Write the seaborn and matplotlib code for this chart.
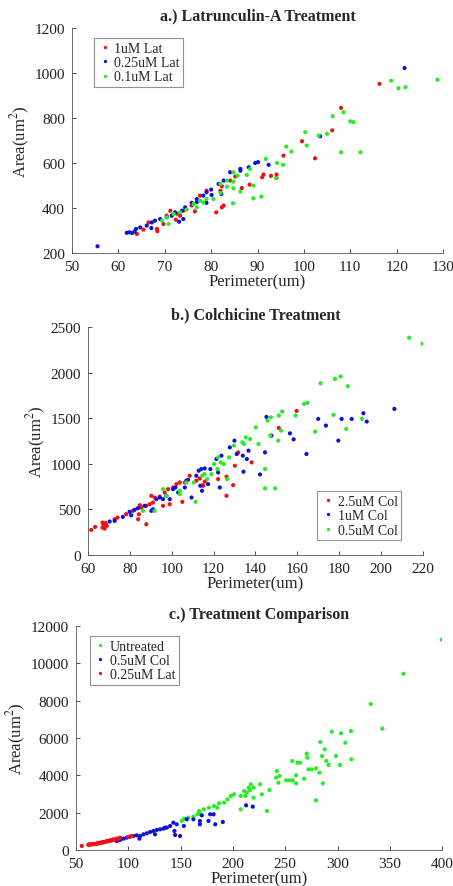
import pandas as pd
import numpy as np
import seaborn as sns
import matplotlib.pyplot as plt

sns.set_theme(style="ticks")
plt.rcParams['font.family'] = ['Liberation Serif', 'DejaVu Serif']
plt.rcParams['mathtext.fontset'] = 'stix'
plt.rcParams['xtick.direction'] = 'in'
plt.rcParams['ytick.direction'] = 'in'

# ---------------- a.) Latrunculin-A ----------------
lat1_x = [116.3, 108.0, 106.1, 99.6, 102.4, 95.6, 94.1, 94.1, 92.9, 91.3, 91.0, 88.3, 86.6, 85.2,
          82.3, 82.7, 82.3, 81.1, 82.0, 76.5, 73.3, 74.0, 72.4, 71.2, 69.7, 68.3, 68.4, 65.4, 64.0,
          66.5, 77.6, 79.0, 84.1, 72.6, 75.8, 70.4]
lat1_y = [952, 845, 745, 697, 621, 633, 549, 534, 543, 549, 537, 504, 489, 540,
          497, 411, 403, 381, 477, 385, 366, 388, 348, 388, 329, 307, 297, 304, 285,
          336, 455, 477, 522, 375, 411, 366]
lat025_x = [55.5, 61.8, 62.4, 63.0, 63.5, 63.8, 64.7, 66.1, 67.2, 67.9, 69.0, 70.4, 71.5, 72.2,
            73.7, 74.4, 75.8, 76.9, 78.3, 79.0, 80.0, 81.6, 82.7, 84.1, 86.3, 88.1, 89.5, 90.1,
            92.4, 103.5, 121.7, 74.0, 79.0, 80.1, 82.2, 67.1, 76.9, 73.1, 86.3]
lat025_y = [230, 290, 292, 289, 296, 307, 314, 322, 336, 344, 351, 359, 366, 381,
            388, 403, 423, 440, 455, 470, 482, 507, 522, 559, 574, 581, 600, 604,
            592, 719, 1022, 351, 423, 458, 462, 311, 426, 339, 566]
lat01_x = [128.8, 118.8, 120.4, 121.9, 108.5, 106.2, 110.0, 110.7, 100.3, 100.6, 103.2, 105.0,
           96.2, 97.3, 108.0, 112.2, 91.8, 94.2, 95.5, 94.0, 88.4, 87.7, 85.7, 84.8, 83.4, 89.1,
           89.1, 90.8, 84.7, 84.8, 86.3, 82.0, 80.5, 78.3, 76.9, 74.7, 73.3, 71.9, 70.4, 69.4,
           70.8, 76.2, 79.0, 84.8, 82.0, 77.6, 83.4]
lat01_y = [970, 966, 933, 937, 826, 808, 785, 782, 737, 678, 722, 730,
           673, 651, 648, 648, 618, 600, 592, 534, 574, 547, 544, 517, 522, 500,
           443, 451, 421, 488, 473, 466, 440, 425, 403, 393, 381, 374, 359, 344,
           329, 418, 440, 559, 507, 433, 495]

# ---------------- b.) Colchicine ----------------
col25_x = [61.6, 63.5, 67.0, 67.5, 68.0, 68.5, 69.0, 68.0, 67.0, 72.8, 74.2, 78.3, 81.5, 84.0,
           84.4, 85.5, 87.9, 87.9, 89.5, 91.1, 91.9, 94.3, 95.9, 96.7, 98.3, 99.1, 100.7, 102.3,
           103.9, 105.1, 106.3, 108.6, 111.8, 113.4, 115.0, 115.9, 122.2, 126.2, 126.2, 129.4,
           130.2, 131.8, 138.2, 151.2, 159.7, 115.0, 90.3, 84.8]
col25_y = [275, 308, 300, 330, 290, 350, 320, 340, 355, 392, 410, 447, 484, 392,
           447, 520, 539, 337, 557, 575, 630, 641, 539, 685, 722, 557, 740, 777,
           795, 583, 795, 869, 814, 839, 759, 806, 832, 858, 649, 766,
           979, 1125, 1015, 1393, 1580, 766, 649, 546]
col1_x = [70.4, 72.8, 76.7, 79.9, 80.7, 82.3, 83.9, 87.1, 90.3, 91.1, 92.7, 94.3, 95.9, 97.5,
          99.1, 100.7, 101.8, 103.1, 106.3, 107.8, 109.5, 111.8, 112.9, 114.2, 115.8, 113.7,
          114.5, 117.4, 121.4, 122.2, 123.0, 123.8, 127.8, 130.0, 131.1, 134.0, 134.3, 135.9,
          136.7, 142.2, 144.6, 145.3, 147.7, 156.5, 158.3, 164.4, 170.0, 173.7, 179.6, 181.2,
          186.0, 191.6, 193.2, 206.4, 118.5, 107.0]
col1_y = [367, 374, 418, 473, 436, 495, 513, 539, 484, 502, 612, 630, 612, 649,
          612, 722, 740, 685, 740, 825, 630, 869, 924, 942, 949, 759,
          704, 777, 1052, 905, 740, 1089, 1180, 1254, 1107, 1089, 913, 1052,
          1144, 883, 1125, 1514, 1309, 1334, 1268, 1107, 1492, 1419, 1254, 1492,
          1492, 1554, 1463, 1602, 942, 814]
col05_x = [213.4, 219.8, 171.1, 178.0, 180.7, 184.1, 163.3, 164.9, 159.2, 152.8, 151.2, 140.2,
           141.5, 145.8, 147.4, 152.2, 150.9, 147.1, 144.6, 144.6, 149.4, 168.5, 177.3, 183.4,
           190.9, 137.5, 135.4, 134.6, 129.8, 127.4, 125.0, 123.4, 121.9, 120.3, 119.0, 117.0,
           114.6, 110.6, 111.4, 115.7, 126.5, 103.9, 103.9, 97.5, 95.9, 91.9, 86.3, 107.0,
           122.2, 133.8]
col05_y = [2383, 2317, 1884, 1932, 1957, 1851, 1657, 1668, 1529, 1573, 1529, 1400,
           1217, 1474, 1510, 1364, 1254, 1309, 942, 730, 730, 1353, 1536, 1382,
           1492, 1272, 1290, 1217, 1199, 1070, 997, 1015, 942, 997, 887, 832,
           869, 795, 583, 887, 832, 704, 667, 649, 722, 484, 484, 795,
           1070, 1235]

# ---------------- c.) Treatment Comparison ----------------
untr_x = [399.7, 363.0, 331.7, 342.9, 294.5, 303.2, 312.8, 307.4, 283.5, 287.7, 298.5, 313.2,
          302.3, 270.5, 271.1, 256.8, 261.6, 264.2, 285.2, 289.3, 291.5, 272.2, 275.4, 279.5,
          282.6, 285.9, 279.5, 268.0, 260.4, 257.2, 260.4, 254.0, 250.8, 241.9, 241.3, 244.5,
          243.5, 234.9, 232.4, 226.0, 227.6, 217.0, 219.6, 216.1, 213.2, 210.7, 207.4, 207.4,
          201.0, 197.9, 194.7, 191.5, 186.6, 181.8, 177.0, 172.2, 167.5, 169.0, 162.2, 157.4,
          153.3, 151.0, 219.6, 211.8, 185.0, 215.0, 166.0]
untr_y = [11268, 9446, 7821, 6500, 6339, 6250, 6375, 5750, 5786, 5393, 5036, 4857,
          4554, 5161, 4946, 4768, 4679, 4679, 5036, 4768, 4554, 4321, 4321, 4375,
          4143, 3571, 2661, 3821, 4000, 3732, 3571, 3732, 3732, 4232, 3875, 3964,
          3607, 3214, 2089, 3518, 2982, 3518, 3339, 3214, 3071, 3161, 2893, 2179,
          2982, 2893, 2714, 2536, 2500, 2357, 2268, 2179, 2089, 1911, 1786, 1732,
          1679, 1554, 2804, 2893, 2268, 3339, 1911]
c05_x = [190.3, 183.0, 176.6, 181.5, 178.2, 170.2, 162.2, 155.8, 168.4, 212.6, 218.9, 149.4,
         144.7, 144.0, 146.2, 143.0, 139.9, 136.7, 133.5, 130.3, 127.1, 123.9, 120.8, 117.6,
         114.4, 111.2, 110.5, 107.9, 104.8, 101.6, 98.5, 95.3, 92.1, 88.9, 125.5, 135.0,
         153.0, 168.4]
c05_y = [1500, 1375, 1554, 1911, 1911, 1857, 1643, 1643, 1375, 2393, 2321, 750,
         804, 1018, 1375, 1464, 1286, 1196, 1143, 1107, 1071, 1018, 964, 893,
         839, 750, 607, 786, 750, 714, 661, 607, 536, 482, 839, 1196,
         1286, 1554]
l025_x = [55.4, 61.8, 65.0, 69.8, 73.0, 76.1, 79.3, 82.5, 85.7, 88.9, 92.1, 103.3,
          63.0, 67.0, 71.0, 75.0, 78.0, 81.0, 84.0, 87.0, 90.0, 64.0, 68.0, 72.0,
          62.0, 66.0, 70.0, 74.0, 76.0, 80.0, 83.0, 86.0, 100.0]
l025_y = [214, 286, 304, 339, 393, 429, 482, 518, 571, 607, 661, 750,
          290, 320, 360, 400, 440, 480, 520, 560, 600, 300, 330, 370,
          280, 310, 350, 390, 410, 460, 500, 540, 700]


def make_df(groups):
    frames = []
    for name, xs, ys in groups:
        frames.append(pd.DataFrame({'Perimeter': xs, 'Area': ys, 'Group': name}))
    return pd.concat(frames, ignore_index=True)


df_a = make_df([('1uM Lat', lat1_x, lat1_y), ('0.25uM Lat', lat025_x, lat025_y),
                ('0.1uM Lat', lat01_x, lat01_y)])
df_b = make_df([('2.5uM Col', col25_x, col25_y), ('1uM Col', col1_x, col1_y),
                ('0.5uM Col', col05_x, col05_y)])
df_c = make_df([('Untreated', untr_x, untr_y), ('0.5uM Col', c05_x, c05_y),
                ('0.25uM Lat', l025_x, l025_y)])

RED, BLUE, GREEN = '#ee1111', '#1010dd', '#22ee22'

fig = plt.figure(figsize=(4.53, 8.87), dpi=100)
ax_a = fig.add_axes([0.159, 0.7136, 0.819, 0.2537])
ax_b = fig.add_axes([0.194, 0.3732, 0.7395, 0.257])
ax_c = fig.add_axes([0.168, 0.0406, 0.808, 0.2525])

panels = [
    (ax_a, df_a, {'1uM Lat': RED, '0.25uM Lat': BLUE, '0.1uM Lat': GREEN},
     'a.) Latrunculin-A Treatment', (50, 130), (200, 1200), 10, 200,
     dict(loc='upper left', bbox_to_anchor=(0.06, 0.955))),
    (ax_b, df_b, {'2.5uM Col': RED, '1uM Col': BLUE, '0.5uM Col': GREEN},
     'b.) Colchicine Treatment', (60, 220), (0, 2500), 20, 500,
     dict(loc='lower right', bbox_to_anchor=(0.935, 0.065))),
    (ax_c, df_c, {'Untreated': GREEN, '0.5uM Col': BLUE, '0.25uM Lat': RED},
     'c.) Treatment Comparison', (50, 400), (0, 12000), 50, 2000,
     dict(loc='upper left', bbox_to_anchor=(0.037, 0.955))),
]

for ax, df, pal, title, xl, yl, dx, dy, leg_kw in panels:
    sns.scatterplot(data=df, x='Perimeter', y='Area', hue='Group', palette=pal,
                    s=9, linewidth=0, edgecolor='none', ax=ax)
    ax.set_xlim(*xl)
    ax.set_ylim(*yl)
    ax.set_xticks(np.arange(xl[0], xl[1] + 1, dx))
    ax.set_yticks(np.arange(yl[0], yl[1] + 1, dy))
    ax.tick_params(labelsize=11, length=3, width=0.6, colors='#333333')
    ax.tick_params(axis='x', pad=5)
    ax.tick_params(axis='y', pad=5)
    for t in ax.get_xticklabels() + ax.get_yticklabels():
        t.set_color('#222222')
    sns.despine(ax=ax)
    for sp in ['left', 'bottom']:
        ax.spines[sp].set_linewidth(0.6)
        ax.spines[sp].set_color('#555555')
    ax.set_title(title, fontsize=11.5, fontweight='bold', pad=6)
    ax.set_xlabel('Perimeter(um)', fontsize=12, labelpad=0)
    ax.set_ylabel('Area(um$^2$)', fontsize=12, labelpad=2)
    leg = ax.legend(fontsize=10, frameon=True, fancybox=False, markerscale=0.8,
                    handletextpad=0.2, handlelength=1.0, borderpad=0.25,
                    labelspacing=0.1, borderaxespad=0, **leg_kw)
    leg.get_frame().set_edgecolor('#777777')
    leg.get_frame().set_linewidth(0.8)

fig.savefig('out.png', dpi=100)
